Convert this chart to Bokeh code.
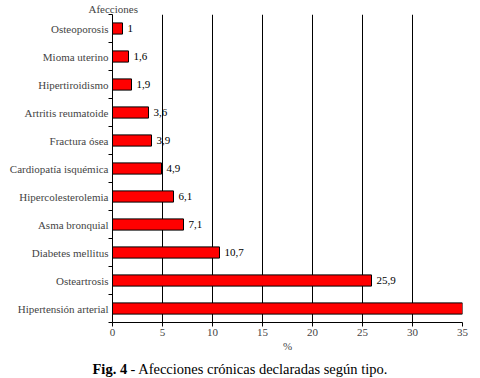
from bokeh.plotting import figure
from bokeh.models import Range1d, FixedTicker, ColumnDataSource, Title
from bokeh.core.properties import value
from bokeh.embed import file_html
from bokeh.resources import INLINE

categories = ["Hipertensión arterial", "Osteartrosis", "Diabetes mellitus", "Asma bronquial",
              "Hipercolesterolemia", "Cardiopatía isquémica", "Fractura ósea",
              "Artritis reumatoide", "Hipertiroidismo", "Mioma uterino", "Osteoporosis"]
values = [35, 25.9, 10.7, 7.1, 6.1, 4.9, 3.9, 3.6, 1.9, 1.6, 1]
value_labels = ["35", "25,9", "10,7", "7,1", "6,1", "4,9", "3,9", "3,6", "1,9", "1,6", "1"]
x_ticks = [0, 5, 10, 15, 20, 25, 30, 35]
caption_bold = "Fig. 4"
caption_rest = "- Afecciones crónicas declaradas según tipo."

FONT = "serif"
pos = list(range(len(categories)))
src = ColumnDataSource(dict(y=pos, v=values, lab=value_labels))

p = figure(width=480, height=362, output_backend="svg", toolbar_location=None,
           x_range=Range1d(0, 35), y_range=Range1d(-0.5, len(categories) - 0.5),
           min_border_left=112, min_border_right=18, min_border_top=14, min_border_bottom=40)
p.outline_line_color = None
p.background_fill_color = "white"
p.border_fill_color = "white"

p.hbar(y="y", right="v", left=0, height=0.4, source=src,
       fill_color="#ff0000", line_color="black", line_width=1)

p.text(x="v", y="y", text="lab", source=src, x_offset=5, text_baseline="middle",
       text_align="left", text_font=value(FONT), text_font_size="11px", text_color="black")

# x axis
p.xaxis.ticker = FixedTicker(ticks=x_ticks)
p.xaxis.axis_label = "%"
p.xaxis.axis_label_text_font = FONT
p.xaxis.axis_label_text_font_style = "normal"
p.xaxis.axis_label_text_font_size = "11px"
p.xaxis.axis_label_standoff = 1
p.xaxis.major_label_text_font = FONT
p.xaxis.major_label_text_font_size = "11px"
p.xaxis.major_tick_in = 0
p.xaxis.major_tick_out = 4
p.xaxis.minor_tick_line_color = None
p.xaxis.axis_line_color = "black"
p.xaxis.major_tick_line_color = "black"
p.xaxis.major_label_standoff = 2

# y axis
p.yaxis.ticker = FixedTicker(ticks=pos, minor_ticks=[i - 0.5 for i in range(len(categories) + 1)])
p.yaxis.major_label_overrides = {i: c for i, c in enumerate(categories)}
p.yaxis.major_label_text_font = FONT
p.yaxis.major_label_text_font_size = "11px"
p.yaxis.major_tick_in = 0
p.yaxis.major_tick_out = 0
p.yaxis.minor_tick_in = 0
p.yaxis.minor_tick_out = 4
p.yaxis.minor_tick_line_color = "black"
p.yaxis.major_label_standoff = 0
p.yaxis.axis_line_color = "black"

# grid
p.xgrid.grid_line_color = "black"
p.xgrid.grid_line_alpha = 1
p.ygrid.grid_line_color = None

p.add_layout(Title(text="Afecciones", align="left", offset=-24, standoff=0,
                   text_font=FONT, text_font_size="11px", text_font_style="normal"), "above")

# caption strip (separate root so its frame is not aligned to the chart's)
c = figure(width=480, height=16, output_backend="svg", toolbar_location=None,
           x_range=Range1d(0, 480), y_range=Range1d(0, 16),
           x_axis_location=None, y_axis_location=None,
           min_border=0, min_border_left=0, min_border_right=0,
           min_border_top=0, min_border_bottom=0)
c.outline_line_color = None
c.grid.visible = False
c.background_fill_color = "white"
c.border_fill_color = "white"
c.text(x=[92], y=[10], text=[caption_bold], text_align="left", text_baseline="middle",
       text_font=value(FONT), text_font_size="14.5px", text_font_style="bold")
c.text(x=[130], y=[10], text=[caption_rest], text_align="left", text_baseline="middle",
       text_font=value(FONT), text_font_size="14.5px")

open("out.html", "w").write(file_html([p, c], INLINE))
